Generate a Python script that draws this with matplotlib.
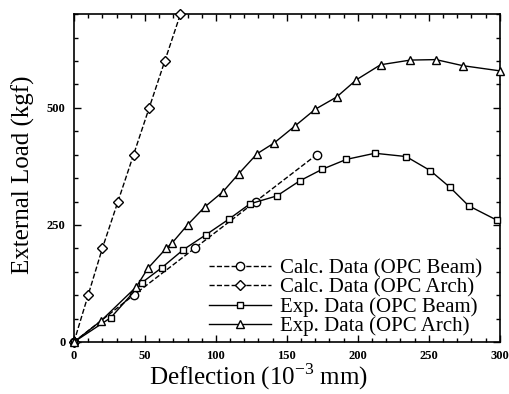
import matplotlib
matplotlib.use("Agg")
import matplotlib.pyplot as plt
from matplotlib.ticker import MultipleLocator, FixedLocator

plt.rcParams['font.family'] = ['Liberation Serif', 'DejaVu Serif']
plt.rcParams['mathtext.fontset'] = 'custom'
plt.rcParams['mathtext.rm'] = 'Liberation Serif'

calc_beam_x = [0, 42, 85, 128, 171]
calc_beam_y = [0, 100, 200, 300, 400]

calc_arch_x = [0, 10, 20, 31, 42, 53, 64, 75]
calc_arch_y = [0, 100, 200, 300, 400, 500, 600, 700]

exp_beam_x = [0, 26, 48, 62, 77, 93, 109, 124, 143, 159, 175, 192, 212, 234, 251, 265, 278, 298]
exp_beam_y = [0, 52, 127, 159, 197, 229, 262, 295, 312, 344, 369, 390, 403, 396, 366, 330, 291, 260]

exp_arch_x = [0, 19, 44, 52, 65, 69, 80, 92, 105, 116, 129, 141, 156, 170, 185, 199, 216, 237, 255, 274, 300]
exp_arch_y = [0, 45, 118, 157, 200, 211, 250, 288, 321, 359, 402, 425, 462, 497, 523, 560, 592, 602, 603, 590, 579]

labels = ['Calc. Data (OPC Beam)', 'Calc. Data (OPC Arch)',
          'Exp. Data (OPC Beam)', 'Exp. Data (OPC Arch)']
x_ticks = [0, 50, 100, 150, 200, 250, 300]
y_ticks = [0, 250, 500]

fig = plt.figure(figsize=(5.10, 3.94), dpi=100)
ax = fig.add_axes([0.145, 0.132, 0.835, 0.832])

lw = 1.0
ax.plot(calc_beam_x, calc_beam_y, ls='--', color='black', lw=lw, marker='o', ms=6,
        mfc='white', mec='black', mew=1.0, label=labels[0], clip_on=False, zorder=3)
ax.plot(calc_arch_x, calc_arch_y, ls='--', color='black', lw=lw, marker='D', ms=5,
        mfc='white', mec='black', mew=1.0, label=labels[1], clip_on=False, zorder=3)
ax.plot(exp_beam_x, exp_beam_y, ls='-', color='black', lw=lw, marker='s', ms=5,
        mfc='white', mec='black', mew=1.0, label=labels[2], clip_on=False, zorder=3)
ax.plot(exp_arch_x, exp_arch_y, ls='-', color='black', lw=lw, marker='^', ms=5.5,
        mfc='white', mec='black', mew=1.0, label=labels[3], clip_on=False, zorder=3)

ax.set_xlim(0, 300)
ax.set_ylim(0, 700)
ax.xaxis.set_major_locator(FixedLocator(x_ticks))
ax.xaxis.set_minor_locator(MultipleLocator(10))
ax.yaxis.set_major_locator(FixedLocator(y_ticks))
ax.yaxis.set_minor_locator(MultipleLocator(50))
ax.tick_params(which='both', direction='in', top=True, right=True, width=1.0)
ax.tick_params(which='major', length=5, labelsize=9)
ax.tick_params(axis='x', which='major', pad=6)
ax.tick_params(axis='y', which='major', pad=6)
ax.tick_params(which='minor', length=3)
for lab in ax.get_xticklabels() + ax.get_yticklabels():
    lab.set_fontweight('bold')
for s in ax.spines.values():
    s.set_linewidth(1.2)

ax.set_xlabel('Deflection (10$^{-3}$ mm)', fontsize=18)
ax.xaxis.set_label_coords(0.433, -0.107, transform=ax.transAxes)
ax.xaxis.label.set_va('center')
ax.set_ylabel('External Load (kgf)', fontsize=18)
ax.yaxis.set_label_coords(-0.12, 0.51, transform=ax.transAxes)
ax.yaxis.label.set_va('center')

leg = ax.legend(loc='lower right', bbox_to_anchor=(0.979, -0.008), frameon=False,
                fontsize=15, handlelength=3.0, handletextpad=0.45,
                labelspacing=-0.02, borderaxespad=0.1, borderpad=0.3)

fig.savefig('out.png', dpi=100)
